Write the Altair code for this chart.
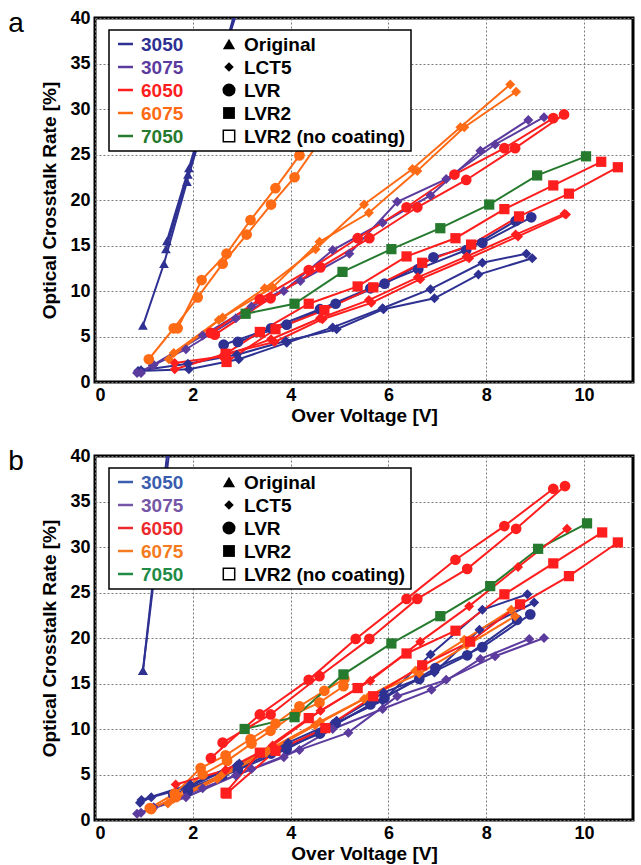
import altair as alt
import pandas as pd

FONT = "Liberation Sans"
SENSORS = ["3050", "3075", "6050", "6075", "7050"]
COATINGS = ["Original", "LCT5", "LVR", "LVR2", "LVR2 (no coating)"]
COLORS_A = ["#2E3192", "#5C3B9E", "#FF1E1E", "#FF6A14", "#267A2E"]
COLORS_B = ["#3A5DAE", "#7656A6", "#EC2A2E", "#F47B20", "#1F8B45"]
SHAPES = ["triangle-up", "diamond", "circle", "square", "square"]
SIZES = [95, 100, 115, 105, 105]
X_TICKS = [0, 2, 4, 6, 8, 10]
Y_TICKS = [0, 5, 10, 15, 20, 25, 30, 35, 40]

# ---------------- panel a ----------------
a_3050_original = [
    [(0.98, 6.2), (1.41, 13.0), (1.88, 22.0), (2.4, 31.5), (2.85, 40.5)],
    [(1.45, 14.6), (1.9, 22.8), (2.4, 32.0), (2.9, 41.0)],
    [(1.47, 15.5), (1.92, 23.5), (2.42, 32.5), (2.95, 41.5)],
]
a_3050_lct5 = [
    [(0.88, 1.2), (1.92, 1.4), (2.94, 2.5), (3.92, 4.3), (4.86, 6.0), (5.88, 8.1), (6.86, 10.2), (7.92, 13.1), (8.82, 14.1)],
    [(0.94, 1.3), (1.9, 2.0), (2.9, 3.0), (3.9, 4.5), (4.94, 5.8), (5.9, 8.0), (6.94, 9.2), (7.84, 11.8), (8.94, 13.6)],
]
a_3050_lvr = [
    [(2.63, 4.1), (3.6, 5.9), (4.6, 8.0), (5.63, 10.3), (6.61, 12.4), (7.59, 14.5), (8.6, 17.7)],
    [(2.92, 4.4), (3.92, 6.3), (4.92, 8.6), (5.92, 10.8), (6.92, 13.7), (7.92, 15.3), (8.92, 18.1)],
]
a_3075_lct5 = [
    [(0.86, 1.0), (1.18, 1.8), (1.86, 3.6), (2.88, 7.0), (3.86, 10.0), (4.86, 14.5), (5.88, 17.5), (6.86, 20.5), (7.88, 25.4), (8.86, 28.8)],
    [(0.94, 1.0), (1.2, 1.9), (2.2, 5.1), (3.2, 8.3), (4.2, 11.1), (5.2, 14.1), (6.18, 19.8), (7.18, 22.3), (8.18, 26.1), (9.18, 29.1)],
]
a_7050_lvr2 = [
    [(3.08, 7.5), (4.08, 8.6), (5.06, 12.1), (6.06, 14.6), (7.06, 16.9), (8.06, 19.5), (9.04, 22.7), (10.04, 24.8)],
]
a_6075_lvr = [
    [(1.1, 2.5), (1.61, 5.9), (2.1, 9.3), (2.61, 13.0), (3.1, 16.2), (3.6, 19.5), (4.08, 22.5), (4.6, 26.5)],
    [(1.69, 5.9), (2.18, 11.2), (2.69, 14.1), (3.18, 17.8), (3.69, 21.3), (4.18, 24.9), (4.7, 28.5)],
]
a_6075_lct5 = [
    [(1.51, 2.5), (2.53, 6.8), (3.47, 10.3), (4.51, 14.6), (5.5, 19.5), (6.49, 23.4), (7.47, 28.0), (8.49, 32.7)],
    [(1.61, 3.2), (2.61, 7.1), (3.63, 10.4), (4.59, 15.4), (5.6, 18.6), (6.59, 23.2), (7.55, 28.0), (8.61, 31.9)],
]
a_6050_lvr = [
    [(2.37, 5.4), (3.37, 9.1), (4.37, 12.3), (5.37, 15.8), (6.37, 19.2), (7.35, 22.8), (8.37, 25.7), (9.37, 29.0)],
    [(2.45, 5.2), (3.59, 9.2), (4.61, 12.6), (5.61, 15.8), (6.59, 19.2), (7.59, 22.2), (8.59, 25.7), (9.59, 29.4)],
]
a_6050_lct5 = [
    [(1.63, 1.4), (2.67, 3.1), (3.67, 4.4), (4.65, 6.9), (5.65, 8.7), (6.65, 11.3), (7.65, 13.6), (8.65, 16.0), (9.63, 18.4)],
    [(1.63, 2.1), (2.6, 2.8), (3.6, 4.7), (4.6, 7.0), (5.6, 9.0), (6.6, 11.5), (7.6, 13.8), (8.6, 16.2), (9.6, 18.5)],
]
a_6050_lvr2 = [
    [(2.67, 3.1), (3.37, 5.5), (4.37, 8.6), (5.37, 10.5), (6.37, 13.8), (7.37, 15.8), (8.37, 19.0), (9.37, 21.6), (10.35, 24.2)],
    [(2.69, 2.2), (3.69, 5.8), (4.69, 7.9), (5.69, 10.4), (6.69, 13.1), (7.69, 15.1), (8.67, 18.2), (9.69, 20.7), (10.69, 23.6)],
]

# ---------------- panel b ----------------
b_3050_original = [
    [(0.98, 16.4), (1.48, 40.5)],
    [(0.98, 16.4), (1.53, 41.0)],
]
b_3050_lct5 = [
    [(0.92, 1.9), (1.15, 2.5), (1.9, 3.6), (2.9, 6.0), (3.9, 8.1), (4.86, 10.5), (5.88, 13.1), (6.86, 18.2), (7.92, 23.1), (8.84, 24.8)],
    [(0.95, 2.2), (1.95, 3.9), (2.95, 6.2), (3.95, 8.5), (4.94, 10.9), (5.9, 14.0), (6.94, 16.2), (7.86, 20.9), (8.98, 23.9)],
]
b_3050_lvr = [
    [(1.6, 2.8), (2.6, 4.9), (3.6, 7.3), (4.6, 9.5), (5.63, 12.7), (6.63, 15.5), (7.61, 18.1), (8.63, 22.0)],
    [(1.9, 3.2), (2.92, 5.5), (3.92, 7.8), (4.92, 10.6), (5.92, 13.4), (6.96, 16.7), (7.92, 19.0), (8.9, 22.6)],
]
b_3075_lct5 = [
    [(0.86, 0.7), (1.18, 1.25), (1.86, 2.5), (2.88, 4.9), (3.86, 6.9), (4.86, 10.0), (5.88, 12.2), (6.88, 14.3), (7.88, 17.7), (8.88, 19.9)],
    [(0.94, 0.8), (1.2, 1.4), (2.2, 3.5), (3.2, 5.6), (4.18, 7.7), (5.18, 9.6), (6.18, 13.6), (7.18, 15.4), (8.18, 18.0), (9.18, 20.0)],
]
b_6075_lvr = [
    [(1.12, 1.3), (1.63, 2.9), (2.16, 5.7), (2.67, 7.1), (3.18, 8.9), (3.69, 10.6), (4.18, 12.5), (4.69, 14.2), (5.1, 15.5)],
    [(1.15, 1.2), (1.65, 2.5), (2.2, 5.0), (2.7, 6.5), (3.2, 8.4), (3.59, 9.8), (4.1, 11.7), (4.59, 12.9), (5.08, 14.7)],
]
b_6075_lct5 = [
    [(1.49, 1.8), (2.5, 4.5), (3.5, 7.4), (4.5, 10.4), (5.5, 13.3), (6.55, 16.4), (7.55, 19.8), (8.51, 23.1)],
    [(1.6, 2.3), (2.6, 5.0), (3.6, 7.9), (4.6, 10.8), (5.6, 13.6), (6.63, 16.1), (7.6, 19.2), (8.59, 22.4)],
]
b_7050_lvr2 = [
    [(3.06, 10.0), (4.08, 11.3), (5.08, 16.0), (6.06, 19.4), (7.06, 22.4), (8.08, 25.7), (9.06, 29.8), (10.06, 32.6)],
]
b_6050_lct5 = [
    [(1.65, 3.9), (2.67, 5.5), (3.63, 8.2), (4.61, 12.0), (5.63, 15.3), (6.65, 19.6), (7.65, 23.5), (8.65, 27.8), (9.65, 32.0)],
]
b_6050_lvr2 = [
    [(2.67, 3.0), (3.37, 7.4), (4.37, 11.2), (5.37, 14.5), (6.37, 18.3), (7.37, 20.8), (8.37, 24.8), (9.37, 28.2), (10.37, 31.6)],
    [(2.69, 2.9), (3.69, 7.6), (4.71, 10.1), (5.69, 13.6), (6.69, 17.0), (7.67, 19.6), (8.69, 23.7), (9.69, 26.8), (10.69, 30.5)],
]
b_6050_lvr = [
    [(2.37, 6.8), (3.37, 11.6), (4.37, 15.4), (5.33, 19.9), (6.37, 24.3), (7.37, 28.6), (8.37, 32.3), (9.37, 36.4)],
    [(2.61, 8.5), (3.59, 11.6), (4.59, 15.8), (5.61, 19.9), (6.59, 24.3), (7.61, 27.6), (8.61, 32.0), (9.61, 36.7)],
]

PANEL_A = [
    ("3050", "Original", a_3050_original), ("3050", "LCT5", a_3050_lct5), ("3050", "LVR", a_3050_lvr),
    ("3075", "LCT5", a_3075_lct5), ("7050", "LVR2", a_7050_lvr2), ("6075", "LVR", a_6075_lvr),
    ("6075", "LCT5", a_6075_lct5), ("6050", "LVR", a_6050_lvr), ("6050", "LCT5", a_6050_lct5),
    ("6050", "LVR2", a_6050_lvr2),
]
PANEL_B = [
    ("3050", "Original", b_3050_original), ("3050", "LCT5", b_3050_lct5), ("3050", "LVR", b_3050_lvr),
    ("3075", "LCT5", b_3075_lct5), ("6075", "LVR", b_6075_lvr), ("6075", "LCT5", b_6075_lct5),
    ("7050", "LVR2", b_7050_lvr2), ("6050", "LCT5", b_6050_lct5), ("6050", "LVR2", b_6050_lvr2),
    ("6050", "LVR", b_6050_lvr),
]


def to_frame(panel):
    rows = []
    for sensor, coating, runs in panel:
        for r, pts in enumerate(runs):
            for i, (x, y) in enumerate(pts):
                rows.append({"sensor": sensor, "coating": coating, "run": f"{sensor}-{coating}-{r}",
                             "idx": i, "x": x, "y": y,
                             "msize": SIZES[COATINGS.index(coating)]})
    return pd.DataFrame(rows)


def one(label="x"):
    return pd.DataFrame({"t": [label]})


def make_panel(df, colors, letter):
    xenc = alt.X("x:Q", scale=alt.Scale(domain=[0, 11], nice=False, zero=False),
                 axis=alt.Axis(values=X_TICKS, title="Over Voltage [V]", format="d"))
    yenc = alt.Y("y:Q", scale=alt.Scale(domain=[0, 40], nice=False),
                 axis=alt.Axis(values=Y_TICKS, title="Optical Crosstalk Rate [%]", format="d"))
    cenc = alt.Color("sensor:N", scale=alt.Scale(domain=SENSORS, range=colors), legend=None)
    lines = alt.Chart(df).mark_line(strokeWidth=2, clip=True).encode(
        x=xenc, y=yenc, color=cenc, detail="run:N", order="idx:Q")
    points = alt.Chart(df).mark_point(filled=True, opacity=1, clip=True).encode(
        x=xenc, y=yenc, color=cenc,
        shape=alt.Shape("coating:N", scale=alt.Scale(domain=COATINGS, range=SHAPES), legend=None),
        size=alt.Size("msize:Q", scale=None))
    layers = [lines, points]
    # legend box
    layers.append(alt.Chart(one()).mark_rect(fill="white", stroke="black", strokeWidth=1.5).encode(
        x=alt.value(14), x2=alt.value(316), y=alt.value(12), y2=alt.value(133)))
    rows_y = [26, 49, 72, 95, 118]
    leg_sizes = [150, 90, 170, 140, 130]
    for i, (s, c) in enumerate(zip(SENSORS, colors)):
        yy = rows_y[i]
        layers.append(alt.Chart(one()).mark_rule(strokeWidth=2.5, color=c).encode(
            x=alt.value(23), x2=alt.value(38), y=alt.value(yy)))
        layers.append(alt.Chart(one(s)).mark_text(
            align="left", baseline="middle", font=FONT, fontSize=19, fontWeight="bold", color=c
        ).encode(x=alt.value(46), y=alt.value(yy + 1), text="t:N"))
    for i, ctg in enumerate(COATINGS):
        yy = rows_y[i]
        filled = i < 4
        layers.append(alt.Chart(one()).mark_point(
            shape=SHAPES[i], filled=filled, size=leg_sizes[i], color="black", opacity=1,
            strokeWidth=1.5).encode(x=alt.value(134), y=alt.value(yy)))
        layers.append(alt.Chart(one(ctg)).mark_text(
            align="left", baseline="middle", font=FONT, fontSize=19, fontWeight="bold", color="black"
        ).encode(x=alt.value(149), y=alt.value(yy + 1), text="t:N"))
    layers.append(alt.Chart(one(letter)).mark_text(
        align="center", baseline="middle", font=FONT, fontSize=28, color="black"
    ).encode(x=alt.value(-79), y=alt.value(6), text="t:N"))
    return alt.layer(*layers).properties(width=538, height=364)


pa = make_panel(to_frame(PANEL_A), COLORS_A, "a")
pb = make_panel(to_frame(PANEL_B), COLORS_B, "b")

chart = alt.vconcat(pa, pb, spacing=18).properties(
    padding={"left": 6, "top": 7, "right": 4, "bottom": 0}
).configure_view(stroke="black", strokeWidth=3).configure_axis(
    labelFont=FONT, labelFontSize=18, labelFontWeight="bold", labelColor="black",
    titleFont=FONT, titleFontSize=19, titleFontWeight="bold", titleColor="black",
    domain=False, ticks=False, gridColor="#7a7a7a", gridDash=[2, 2], gridWidth=1, gridOpacity=1
).configure_axisX(labelPadding=4, titlePadding=2).configure_axisY(labelPadding=5, titlePadding=10)

chart.save("out.html", embed_options={"renderer": "svg", "actions": False})
